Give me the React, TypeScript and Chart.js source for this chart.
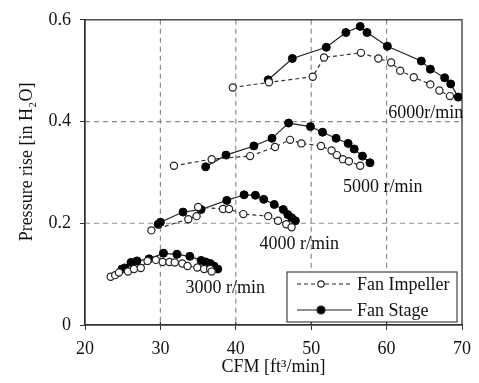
import React, { useEffect, useRef } from "react";
import { Chart, registerables } from "chart.js";

Chart.register(...registerables);

// ---- data ----
const imp6000X = [39.6, 44.4, 50.2, 51.7, 56.6, 58.9, 60.6, 61.8, 63.6, 65.8, 67.0, 68.4];
const imp6000Y = [0.467, 0.477, 0.488, 0.526, 0.535, 0.524, 0.516, 0.5, 0.487, 0.473, 0.461, 0.45];
const stg6000X = [44.3, 47.5, 52.0, 54.6, 56.5, 57.4, 60.1, 64.6, 65.8, 67.7, 68.5, 69.5];
const stg6000Y = [0.482, 0.524, 0.546, 0.575, 0.587, 0.575, 0.548, 0.519, 0.503, 0.486, 0.474, 0.448];

const imp5000X = [31.8, 36.8, 41.9, 45.2, 47.2, 48.7, 51.3, 52.7, 53.4, 54.2, 55.0, 56.5];
const imp5000Y = [0.313, 0.326, 0.332, 0.35, 0.364, 0.357, 0.352, 0.343, 0.334, 0.326, 0.322, 0.313];
const stg5000X = [36.0, 38.7, 42.4, 44.8, 47.0, 49.9, 51.5, 53.3, 54.9, 55.7, 56.8, 57.8];
const stg5000Y = [0.311, 0.334, 0.352, 0.367, 0.397, 0.39, 0.379, 0.367, 0.357, 0.346, 0.332, 0.319];

const imp4000X = [28.8, 33.7, 34.8, 35.0, 38.3, 39.1, 41.0, 44.3, 45.6, 46.7, 47.4];
const imp4000Y = [0.186, 0.208, 0.214, 0.232, 0.228, 0.228, 0.218, 0.214, 0.205, 0.198, 0.192];
const stg4000X = [29.7, 30.0, 33.0, 35.4, 38.8, 41.1, 42.6, 43.7, 45.1, 46.3, 46.9, 47.4, 47.9];
const stg4000Y = [0.198, 0.202, 0.222, 0.227, 0.245, 0.256, 0.255, 0.247, 0.237, 0.227, 0.217, 0.211, 0.205];

const imp3000X = [23.4, 24.0, 24.5, 25.7, 26.5, 27.4, 28.3, 29.4, 30.3, 31.2, 31.9, 32.9, 33.6, 34.9, 35.8, 36.6, 36.8];
const imp3000Y = [0.095, 0.098, 0.103, 0.105, 0.11, 0.112, 0.126, 0.128, 0.124, 0.124, 0.123, 0.121, 0.116, 0.113, 0.11, 0.11, 0.105];
const stg3000X = [24.9, 25.3, 26.1, 26.9, 28.5, 30.4, 32.2, 33.9, 35.4, 36.0, 36.6, 37.1, 37.6];
const stg3000Y = [0.11, 0.112, 0.123, 0.126, 0.13, 0.141, 0.139, 0.135, 0.127, 0.124, 0.121, 0.116, 0.11];

const speedLabels = ["6000r/min", "5000 r/min", "4000 r/min", "3000 r/min"];
const speedLabelX = [65.2, 59.5, 48.4, 38.6];
const speedLabelY = [0.416, 0.271, 0.159, 0.072];

const xGridValues = [30, 40, 50, 60];
const yGridValues = [0.2, 0.4];

const seriesNames = ["Fan Impeller", "Fan Stage"];
const xTitle = "CFM [ft³/min]";
const yTitle = "Pressure rise [in H₂O]";

const FONT = "'Liberation Serif', 'Times New Roman', serif";

const zip = (xs: number[], ys: number[]) => xs.map((x, i) => ({ x, y: ys[i] }));

const impStyle = {
  borderColor: "#333",
  borderWidth: 1.2,
  borderDash: [4, 3],
  pointRadius: 3.6,
  pointBackgroundColor: "#fff",
  pointBorderColor: "#222",
  pointBorderWidth: 1.2,
  backgroundColor: "#fff",
  showLine: true,
  tension: 0,
};
const stgStyle = {
  borderColor: "#222",
  borderWidth: 1.2,
  pointRadius: 4,
  pointBackgroundColor: "#000",
  pointBorderColor: "#000",
  pointBorderWidth: 1,
  backgroundColor: "#000",
  showLine: true,
  tension: 0,
};

const overlayPlugin = {
  id: "overlay",
  afterDatasetsDraw(chart: any) {
    // nothing
  },
  beforeDatasetsDraw(chart: any) {
    const { ctx, chartArea, scales } = chart;
    const { left, right, top, bottom } = chartArea;
    ctx.save();
    ctx.strokeStyle = "#8c8c8c";
    ctx.lineWidth = 1.2;
    ctx.setLineDash([5, 4]);
    xGridValues.forEach((v) => {
      const px = scales.x.getPixelForValue(v);
      ctx.beginPath();
      ctx.moveTo(px, top);
      ctx.lineTo(px, bottom);
      ctx.stroke();
    });
    yGridValues.forEach((v) => {
      const py = scales.y.getPixelForValue(v);
      ctx.beginPath();
      ctx.moveTo(left, py);
      ctx.lineTo(right, py);
      ctx.stroke();
    });
    ctx.setLineDash([]);
    ctx.strokeStyle = "#333";
    ctx.lineWidth = 1.3;
    ctx.strokeRect(left, top, right - left, bottom - top);
    xGridValues.forEach((v) => {
      const px = scales.x.getPixelForValue(v);
      ctx.beginPath();
      ctx.moveTo(px, bottom);
      ctx.lineTo(px, bottom - 3);
      ctx.stroke();
    });
    ctx.restore();
  },
  afterDraw(chart: any) {
    const { ctx, chartArea, scales } = chart;
    ctx.save();
    ctx.fillStyle = "#111";
    ctx.font = `18px ${FONT}`;
    ctx.textBaseline = "middle";
    ctx.textAlign = "center";
    speedLabels.forEach((t, i) => {
      ctx.fillText(t, scales.x.getPixelForValue(speedLabelX[i]), scales.y.getPixelForValue(speedLabelY[i]));
    });

    ctx.fillText(xTitle, (chartArea.left + chartArea.right) / 2, 367);
    ctx.save();
    ctx.translate(27, 162);
    ctx.rotate(-Math.PI / 2);
    ctx.fillText(yTitle, 0, 0);
    ctx.restore();

    const bx = chartArea.right - 175;
    const by = chartArea.bottom - 53;
    const bw = 170;
    const bh = 50;
    ctx.fillStyle = "#fff";
    ctx.fillRect(bx, by, bw, bh);
    ctx.strokeStyle = "#444";
    ctx.lineWidth = 1.2;
    ctx.strokeRect(bx, by, bw, bh);
    const rows = [by + 12, by + 38];
    seriesNames.forEach((name, i) => {
      const y = rows[i];
      const x1 = bx + 10;
      const x2 = bx + 65;
      const cx = bx + 34;
      ctx.beginPath();
      ctx.strokeStyle = "#222";
      ctx.lineWidth = 1.2;
      ctx.setLineDash(i === 0 ? [4, 3] : []);
      ctx.moveTo(x1, y);
      ctx.lineTo(x2, y);
      ctx.stroke();
      ctx.setLineDash([]);
      ctx.beginPath();
      ctx.arc(cx, y, i === 0 ? 3.2 : 4, 0, Math.PI * 2);
      ctx.fillStyle = i === 0 ? "#fff" : "#000";
      ctx.fill();
      ctx.stroke();
      ctx.fillStyle = "#111";
      ctx.textAlign = "left";
      ctx.fillText(name, bx + 70, y + 1);
    });
    ctx.restore();
  },
};

export default function App() {
  const ref = useRef<HTMLCanvasElement | null>(null);
  useEffect(() => {
    if (!ref.current) return;
    const groups = [
      [imp6000X, imp6000Y, stg6000X, stg6000Y],
      [imp5000X, imp5000Y, stg5000X, stg5000Y],
      [imp4000X, imp4000Y, stg4000X, stg4000Y],
      [imp3000X, imp3000Y, stg3000X, stg3000Y],
    ];
    const datasets: any[] = [];
    groups.forEach((g) => {
      datasets.push({ label: seriesNames[0], data: zip(g[0], g[1]), ...impStyle });
      datasets.push({ label: seriesNames[1], data: zip(g[2], g[3]), ...stgStyle });
    });
    const chart = new Chart(ref.current, {
      type: "scatter",
      data: { datasets },
      options: {
        animation: false,
        responsive: false,
        layout: { padding: { top: 15, right: 17, left: 0, bottom: 0 } },
        plugins: { legend: { display: false }, tooltip: { enabled: false } },
        scales: {
          x: {
            type: "linear",
            min: 20,
            max: 70,
            afterFit: (s: any) => { s.height = 58; },
            ticks: { stepSize: 10, color: "#111", font: { family: FONT, size: 18 }, padding: 8 },
            grid: { drawOnChartArea: false, tickColor: "#333", tickLength: 5 },
            border: { display: true, color: "#333", width: 1.3 },
          },
          y: {
            type: "linear",
            min: 0,
            max: 0.6,
            afterFit: (s: any) => { s.width = 85; },
            ticks: {
              stepSize: 0.2,
              color: "#111",
              font: { family: FONT, size: 18 },
              padding: 9,
              callback: (v: any) => (Math.abs(v) < 1e-9 ? "0" : Number(v).toFixed(1)),
            },
            grid: { drawOnChartArea: false, tickColor: "#333", tickLength: 5 },
            border: { display: true, color: "#333", width: 1.3 },
          },
        },
      } as any,
      plugins: [overlayPlugin],
    });
    return () => chart.destroy();
  }, []);
  return (
    <div style={{ position: "fixed", left: 0, top: 0, width: 479, height: 383, background: "#fff" }}>
      <canvas ref={ref} width={479} height={383} style={{ display: "block" }} />
    </div>
  );
}
